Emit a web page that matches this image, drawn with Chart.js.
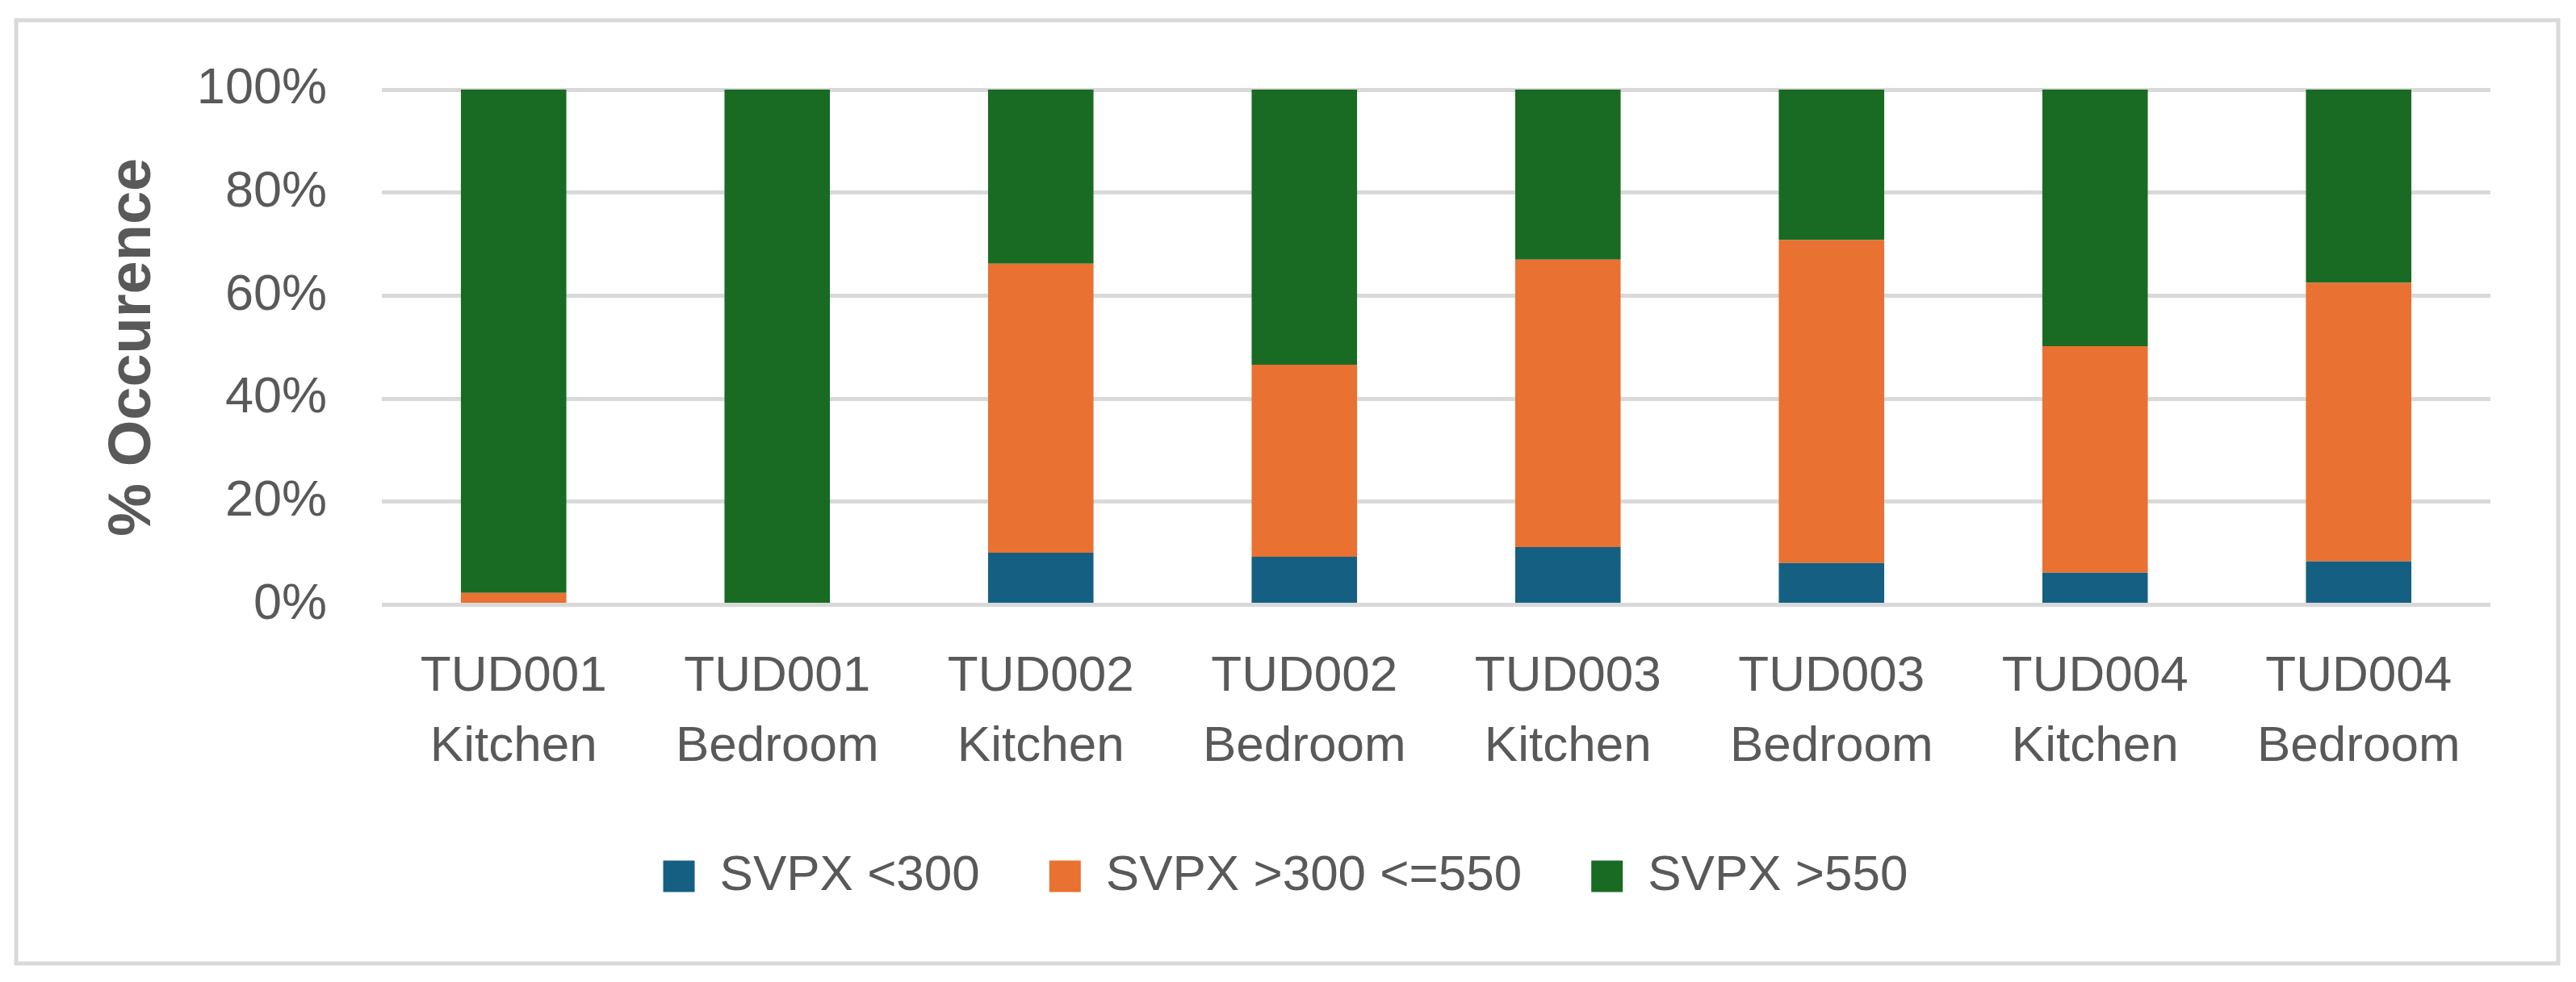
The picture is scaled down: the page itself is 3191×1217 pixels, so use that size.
<!DOCTYPE html>
<html>
<head>
<meta charset="utf-8">
<script src="https://cdn.jsdelivr.net/npm/chart.js@4"></script>
<style>
  html, body { margin: 0; padding: 0; background: #ffffff; }
  canvas { display: block; }
</style>
</head>
<body>
<canvas id="occChart" width="3191" height="1217"></canvas>
<script>
var categories = [
    ['TUD001', 'Kitchen'], ['TUD001', 'Bedroom'],
    ['TUD002', 'Kitchen'], ['TUD002', 'Bedroom'],
    ['TUD003', 'Kitchen'], ['TUD003', 'Bedroom'],
    ['TUD004', 'Kitchen'], ['TUD004', 'Bedroom']
];
var seriesNames = ['SVPX <300', 'SVPX >300 <=550', 'SVPX >550'];
var below300 = [0, 0, 10.1, 9.3, 11.2, 8.1, 6.2, 8.4];
var between300and550 = [2.3, 0, 56.1, 37.3, 55.8, 62.7, 44.0, 54.1];
var above550 = [97.7, 100, 33.8, 53.4, 33.0, 29.2, 49.8, 37.5];
var yTicks = [0, 20, 40, 60, 80, 100];

var colors = ['#156082', '#E97132', '#196B24'];
var textColor = '#595959';
var fontFamily = '"Liberation Sans", Arial, sans-serif';

// grey frame around the whole chart, like the Excel chart area
var chartFrame = {
    id: 'chartFrame',
    beforeDraw: function(chart) {
        var ctx = chart.ctx;
        ctx.save();
        ctx.fillStyle = '#ffffff';
        ctx.fillRect(0, 0, chart.width, chart.height);
        ctx.strokeStyle = '#d9d9d9';
        ctx.lineWidth = 5;
        ctx.strokeRect(20, 25, 3149, 1169);
        ctx.restore();
    }
};

var allSeries = [below300, between300and550, above550];
var datasets = seriesNames.map(function(name, i) {
    return {
        label: name,
        data: allSeries[i],
        backgroundColor: colors[i],
        borderWidth: 0,
        categoryPercentage: 1,
        barPercentage: 0.4
    };
});

var ctx = document.getElementById('occChart').getContext('2d');
new Chart(ctx, {
    type: 'bar',
    data: {
        labels: categories,
        datasets: datasets
    },
    options: {
        responsive: false,
        animation: false,
        devicePixelRatio: 1,
        layout: {
            padding: { left: 100, right: 106, top: 111, bottom: 90 }
        },
        plugins: {
            legend: {
                position: 'bottom',
                labels: {
                    boxWidth: 39,
                    boxHeight: 39,
                    padding: 86,
                    color: textColor,
                    font: { family: fontFamily, size: 62 }
                }
            },
            tooltip: { enabled: false },
            title: { display: false }
        },
        scales: {
            x: {
                stacked: true,
                grid: { display: false, drawTicks: false },
                border: { display: false },
                ticks: {
                    padding: 46,
                    color: textColor,
                    font: { family: fontFamily, size: 62, lineHeight: 1.4 }
                },
                afterFit: function(scale) {
                    // padding only above the labels, not below
                    scale.height = 46 + 2 * 62 * 1.4;
                }
            },
            y: {
                stacked: true,
                min: 0,
                max: 100,
                afterBuildTicks: function(axis) {
                    axis.ticks = yTicks.map(function(v) { return { value: v }; });
                },
                afterFit: function(scale) {
                    scale.width = 373;
                },
                grid: { color: '#d9d9d9', lineWidth: 5, drawTicks: false },
                border: { display: false },
                ticks: {
                    padding: 68,
                    color: textColor,
                    font: { family: fontFamily, size: 63 },
                    callback: function(v) { return v + '%'; }
                },
                title: {
                    display: true,
                    text: '% Occurence',
                    color: textColor,
                    padding: { top: 21, bottom: 0 },
                    font: { family: fontFamily, size: 74, weight: 'bold' }
                }
            }
        }
    },
    plugins: [chartFrame]
});
</script>
</body>
</html>
